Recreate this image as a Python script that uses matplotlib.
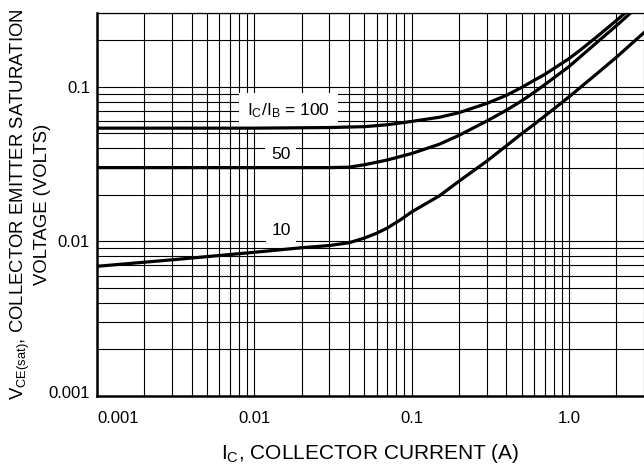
import numpy as np
import matplotlib
matplotlib.use('Agg')
import matplotlib.pyplot as plt
import matplotlib.transforms as mtransforms
from matplotlib.ticker import LogLocator, NullFormatter, FixedLocator, FixedFormatter

plt.rcParams['font.family'] = ['Liberation Sans', 'DejaVu Sans']
plt.rcParams['mathtext.fontset'] = 'custom'
plt.rcParams['mathtext.rm'] = 'Liberation Sans'
plt.rcParams['mathtext.it'] = 'Liberation Sans'
plt.rcParams['mathtext.bf'] = 'Liberation Sans:bold'

# IC/IB = 100
ic_100 = [0.001, 0.01, 0.03, 0.05, 0.07, 0.1, 0.15, 0.2, 0.3, 0.4, 0.5, 0.6, 0.7, 1.0, 1.2, 1.5, 2.0, 2.4]
vce_100 = [0.054, 0.054, 0.0545, 0.0552, 0.0568, 0.0597, 0.0635, 0.068, 0.078, 0.088, 0.099, 0.11, 0.12, 0.152, 0.175, 0.21, 0.268, 0.315]
# IC/IB = 50
ic_50 = [0.001, 0.01, 0.03, 0.04, 0.05, 0.07, 0.1, 0.15, 0.2, 0.3, 0.4, 0.5, 0.6, 0.7, 1.0, 1.5, 2.0, 2.6]
vce_50 = [0.030, 0.030, 0.030, 0.0302, 0.0313, 0.0336, 0.037, 0.0425, 0.0485, 0.060, 0.0705, 0.081, 0.092, 0.103, 0.135, 0.193, 0.248, 0.315]
# IC/IB = 10
ic_10 = [0.001, 0.003, 0.01, 0.02, 0.03, 0.04, 0.05, 0.06, 0.07, 0.085, 0.1, 0.15, 0.2, 0.3, 0.4, 0.5, 0.6, 0.8, 1.0, 1.6, 2.0, 3.0]
vce_10 = [0.0069, 0.0076, 0.0085, 0.0091, 0.0094, 0.0098, 0.0105, 0.0113, 0.0122, 0.0138, 0.0155, 0.0197, 0.0245, 0.033, 0.0415, 0.0497, 0.0571, 0.0718, 0.086, 0.128, 0.155, 0.224]

x_ticks = [0.001, 0.01, 0.1, 1.0]
x_ticklabels = ['0.001', '0.01', '0.1', '1.0']
y_ticks = [0.001, 0.01, 0.1]
y_ticklabels = ['0.001', '0.01', '0.1']

fig = plt.figure(figsize=(6.44, 4.66), dpi=100)
ax = fig.add_axes([97 / 644, 70 / 466, 547 / 644, 383 / 466])

for x, y in [(ic_100, vce_100), (ic_50, vce_50), (ic_10, vce_10)]:
    ax.plot(x, y, color='black', linewidth=2.3, zorder=5, solid_joinstyle='round')

ax.set_xscale('log')
ax.set_yscale('log')
ax.set_xlim(0.001, 3.0)
ax.set_ylim(0.001, 0.3)

for axis, ticks, labels in [(ax.xaxis, x_ticks, x_ticklabels), (ax.yaxis, y_ticks, y_ticklabels)]:
    axis.set_major_locator(FixedLocator(ticks))
    axis.set_major_formatter(FixedFormatter(labels))
    axis.set_minor_locator(LogLocator(base=10, subs=np.arange(2, 10)))
    axis.set_minor_formatter(NullFormatter())

ax.grid(True, which='both', color='black', linewidth=0.8)
ax.tick_params(which='both', length=0, labelsize=12)
ax.tick_params(axis='x', pad=11)
ax.tick_params(axis='y', pad=5)

for s in ['left', 'bottom']:
    ax.spines[s].set_linewidth(1.8)
ax.spines['top'].set_linewidth(0.9)
ax.spines['right'].set_visible(False)

# first labels pushed inward like the original
xl = ax.get_xticklabels()[0]
xl.set_horizontalalignment('left')
yl = ax.get_yticklabels()[0]
yl.set_transform(yl.get_transform() + mtransforms.ScaledTranslation(0, 3 / 72, fig.dpi_scale_trans))

box = dict(facecolor='white', edgecolor='none', pad=4)
ax.text(0.0165, 0.070, r'I$_\mathrm{C}$/I$_\mathrm{B}$ = 100', fontsize=12.5, ha='center', va='center',
        bbox=dict(facecolor='white', edgecolor='none', pad=6), zorder=4)
ax.text(0.0147, 0.0367, '50', fontsize=12.5, ha='center', va='center', bbox=box, zorder=4)
ax.text(0.0148, 0.0118, '10', fontsize=12.5, ha='center', va='center', bbox=box, zorder=4)

ax.set_xlabel(r'I$_\mathrm{C}$, COLLECTOR CURRENT (A)', fontsize=15)
ax.xaxis.set_label_coords(0.5, -0.12)
ax.set_ylabel(r'V$_\mathrm{CE(sat)}$, COLLECTOR EMITTER SATURATION' + '\n' + 'VOLTAGE (VOLTS)',
              fontsize=13.3, linespacing=1.15)
ax.yaxis.set_label_coords(-0.085, 0.5)

fig.savefig('out.png', dpi=100)
